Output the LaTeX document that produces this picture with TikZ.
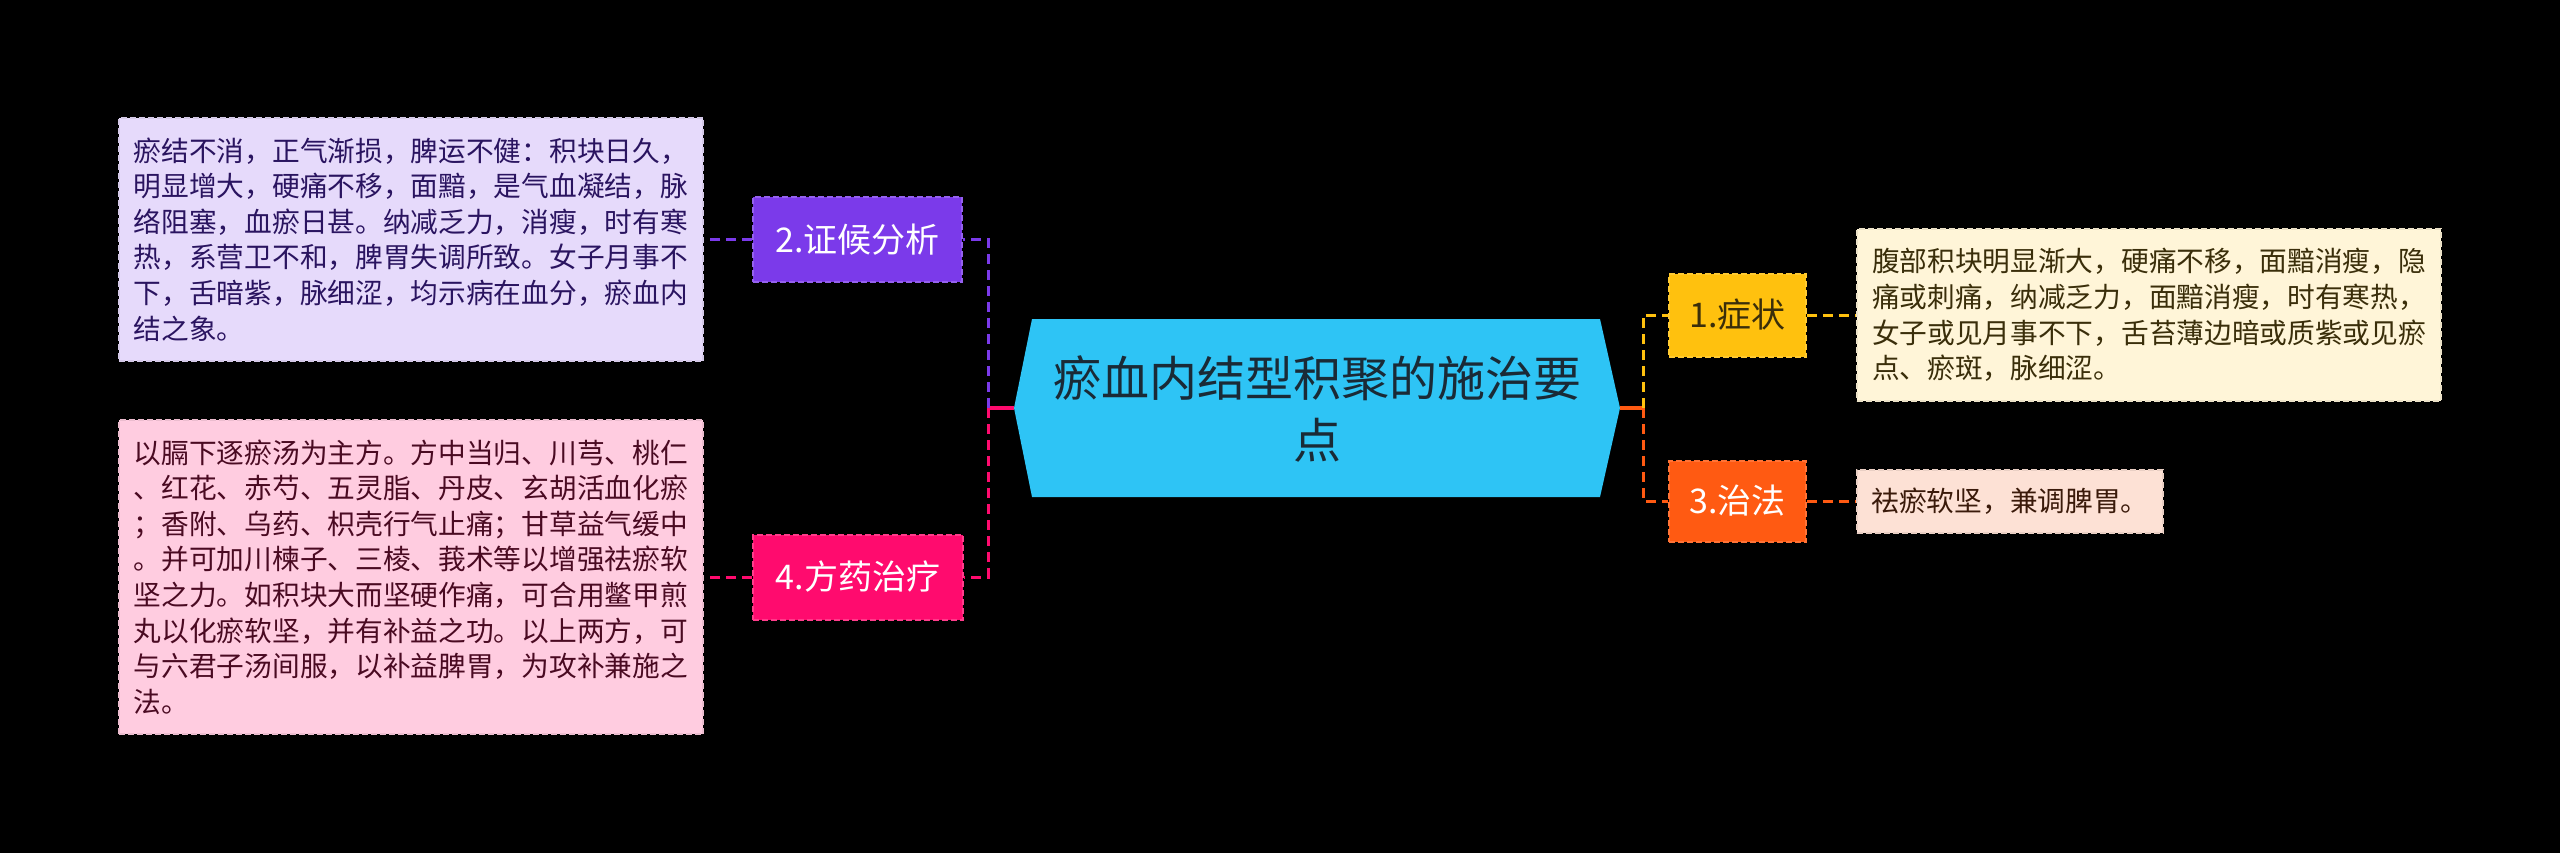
\documentclass[tikz,border=0pt]{standalone}
\usepackage{fontspec}
\setmainfont{Noto Sans CJK SC}
\definecolor{cyanc}{HTML}{2EC4F5}
\definecolor{centx}{HTML}{1A2A36}
\definecolor{purp}{HTML}{7B3AEA}
\definecolor{purplt}{HTML}{E6DAFB}
\definecolor{purtx}{HTML}{2A1460}
\definecolor{pinkc}{HTML}{FF0B6E}
\definecolor{pinklt}{HTML}{FFCCE0}
\definecolor{pinktx}{HTML}{4A0A22}
\definecolor{yelc}{HTML}{FFC10E}
\definecolor{yellt}{HTML}{FFF5D8}
\definecolor{yeltx}{HTML}{3A2E0A}
\definecolor{orac}{HTML}{FF5A12}
\definecolor{oralt}{HTML}{FDE1D5}
\definecolor{oratx}{HTML}{3A1A0A}
\tikzset{
  lbl/.style={rectangle, line width=2pt, dash pattern=on 6pt off 3pt, inner sep=0pt,
    font=\fontsize{34pt}{40pt}\selectfont},
  txtbox/.style={rectangle, line width=2pt, dash pattern=on 6pt off 3pt, inner sep=0pt,
    align=left, font=\fontsize{27.7pt}{35.6pt}\selectfont},
  conn/.style={line width=3pt, dash pattern=on 10pt off 6pt},
  solidc/.style={line width=4pt},
}
\begin{document}
\begin{tikzpicture}[x=1pt,y=-1pt]
\useasboundingbox[fill=black] (0,0) rectangle (2560,853);
% central node
\fill[cyanc] (1014,408) -- (1032,319) -- (1600,319) -- (1620,408) -- (1600,497) -- (1032,497) -- cycle;
\coordinate (cw) at (1014,408);
\coordinate (ce) at (1620,408);
\node[align=center, text=centx, font=\fontsize{48pt}{62pt}\selectfont] (c) at (1317,409) {瘀血内结型积聚的施治要\\点};
\coordinate (jl) at (988,408);
\coordinate (jr) at (1643,408);
% labels
\node[lbl, fill=purp, draw=purp!80!white, text=white, minimum width=209pt, minimum height=85pt] (b2) at (857.5,239.5) {2.证候分析};
\node[lbl, fill=pinkc, draw=pinkc!80!white, text=white, minimum width=210pt, minimum height=85pt] (b4) at (858,577) {4.方药治疗};
\node[lbl, fill=yelc, draw=yelc!85!white, text=yeltx, minimum width=137pt, minimum height=83pt] (b1) at (1737.5,315) {1.症状};
\node[lbl, fill=orac, draw=orac!85!white, text=white, minimum width=137pt, minimum height=81pt] (b3) at (1737.5,501) {3.治法};
% text boxes
\node[txtbox, fill=purplt, draw=purplt!92!black, text=purtx, minimum width=584.5pt, minimum height=243pt] (t2) at (410.8,239.5) {瘀结不消，正气渐损，脾运不健：积块日久，\\明显增大，硬痛不移，面黯，是气血凝结，脉\\络阻塞，血瘀日甚。纳减乏力，消瘦，时有寒\\热，系营卫不和，脾胃失调所致。女子月事不\\下，舌暗紫，脉细涩，均示病在血分，瘀血内\\结之象。};
\node[txtbox, fill=pinklt, draw=pinklt!92!black, text=pinktx, minimum width=584.5pt, minimum height=314pt] (t4) at (410.8,577) {以膈下逐瘀汤为主方。方中当归、川芎、桃仁\\、红花、赤芍、五灵脂、丹皮、玄胡活血化瘀\\；香附、乌药、枳壳行气止痛；甘草益气缓中\\。并可加川楝子、三棱、莪术等以增强祛瘀软\\坚之力。如积块大而坚硬作痛，可合用鳖甲煎\\丸以化瘀软坚，并有补益之功。以上两方，可\\与六君子汤间服，以补益脾胃，为攻补兼施之\\法。};
\node[txtbox, fill=yellt, draw=yellt!92!black, text=yeltx, minimum width=584pt, minimum height=172pt] (t1) at (2149,315) {腹部积块明显渐大，硬痛不移，面黯消瘦，隐\\痛或刺痛，纳减乏力，面黯消瘦，时有寒热，\\女子或见月事不下，舌苔薄边暗或质紫或见瘀\\点、瘀斑，脉细涩。};
\node[txtbox, fill=oralt, draw=oralt!92!black, text=oratx, minimum width=306pt, minimum height=63pt] (t3) at (2010,501) {祛瘀软坚，兼调脾胃。};
% connectors
\draw[solidc, pinkc] (cw) -- (jl);
\draw[conn, purp] (jl) |- (b2.east);
\draw[conn, pinkc] (jl) |- (b4.east);
\draw[conn, purp] (b2.west) -- (t2.east);
\draw[conn, pinkc] (b4.west) -- (t4.east);
\draw[solidc, orac] (ce) -- (jr);
\draw[conn, yelc] (jr) |- (b1.west);
\draw[conn, orac] (jr) |- (b3.west);
\draw[conn, yelc] (b1.east) -- (t1.west);
\draw[conn, orac] (b3.east) -- (t3.west);
\end{tikzpicture}
\end{document}
